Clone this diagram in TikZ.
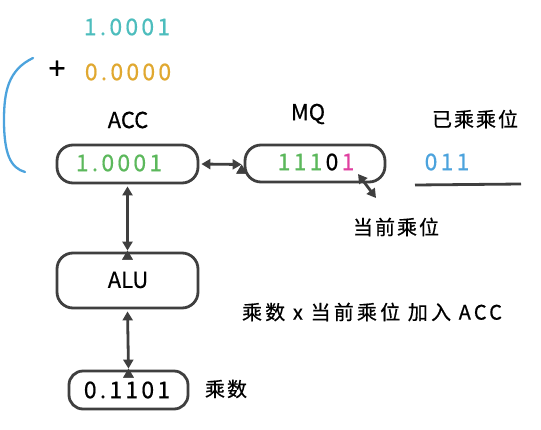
\documentclass[tikz,border=0pt]{standalone}
\usepackage{fontspec}
\setmainfont{Noto Sans CJK SC}[FakeBold=0.6]
\newfontfamily\wide{Noto Sans CJK SC}[LetterSpace=14,FakeBold=0.6]
\newfontfamily\cjkw{Noto Sans CJK SC}[LetterSpace=10,FakeBold=0.6]
\newfontfamily\cjkn{Noto Sans CJK SC}[LetterSpace=16,FakeBold=0.6]
\usetikzlibrary{arrows.meta,shapes.misc}
\definecolor{ink}{HTML}{3F3F3F}
\definecolor{tealc}{HTML}{4DBDBD}
\definecolor{orangec}{HTML}{E0A830}
\definecolor{greenc}{HTML}{5CB85C}
\definecolor{bluec}{HTML}{4CA3DD}
\definecolor{pinkc}{HTML}{E040A0}
\tikzset{
  box/.style={draw=ink, line width=2.8pt, rounded corners=16pt, inner sep=0pt},
  num/.style={font=\wide\fontsize{23}{26}\selectfont, inner sep=0pt},
  lbl/.style={font=\fontsize{22}{24}\selectfont, inner sep=0pt},
  cjk/.style={font=\cjkw\fontsize{20}{23}\selectfont, inner sep=0pt},
  arr/.style={draw=ink, line width=2.8pt, {Triangle[length=9pt,width=10pt]}-{Triangle[length=9pt,width=10pt]}},
}
\begin{document}
\begin{tikzpicture}[x=1pt,y=-1pt]
\useasboundingbox (0,0) rectangle (541,429);
% top numbers
\node[num, text=tealc] (t1) at (127,27) {1.0001};
\node[font=\fontsize{30}{32}\selectfont, inner sep=0pt] (plus) at (57,70) {+};
\node[num, text=orangec] (t2) at (128,72) {0.0000};
\draw[bluec, line width=2.3pt, line cap=round] (33,58) .. controls (8,70) and (4,92) .. (4,120) .. controls (4,155) and (11,168) .. (25,172);
% labels
\node[lbl] (acclbl) at (128,120) {ACC};
\node[lbl] (mqlbl) at (308,114) {MQ};
\node[cjk] (done) at (475,119) {已乘乘位};
% boxes
\node[box, minimum width=141pt, minimum height=38pt] (acc) at (127.5,164) {};
\node[num, text=greenc] (accv) at (119,163) {1.0001};
\node[box, minimum width=140pt, minimum height=37pt] (mq) at (315,163.5) {};
\node[num] (mqv) at (316,162) {\textcolor{greenc}{111}\kern3.2pt 0\kern3.2pt\textcolor{pinkc}{1}};
\node[box, minimum width=141pt, minimum height=55pt] (alu) at (127.5,280.5) {};
\node[lbl] (aluv) at (128,280) {ALU};
\node[box, minimum width=119pt, minimum height=38pt, rounded corners=14pt] (mul) at (128.5,390) {};
\node[num] (mulv) at (127,390) {0.1101};
% right side
\node[num, text=bluec] (bits) at (447,162) {011};
\coordinate (l1) at (415,185);
\coordinate (l2) at (521,184);
\draw[ink, line width=2.8pt] (l1) -- (l2);
\node[cjk] (cur) at (396,227) {当前乘位};
\node[cjk] (mullbl) at (226,389) {乘数};
\node[font=\cjkn\fontsize{20}{23}\selectfont, inner sep=0pt] (note) at (372,312) {乘数 x 当前乘位 加入 ACC};
% arrows
\draw[arr] (acc.east) ++(2,0) coordinate (a1) (mq.west) ++(-2,1) coordinate (a2);
\draw[arr] (a1) -- (a2);
\draw[arr] (acc.south) ++(0,2) coordinate (b1) (alu.north) ++(0,-1) coordinate (b2);
\draw[arr] (b1) -- (b2);
\draw[arr] (alu.south) ++(0,2) coordinate (c1) (mul.north) ++(0,-1) coordinate (c2);
\draw[arr] (c1) -- (c2);
\coordinate (d1) at (358,174);
\coordinate (d2) at (376,198);
\draw[arr] (d1) -- (d2);
\end{tikzpicture}
\end{document}
